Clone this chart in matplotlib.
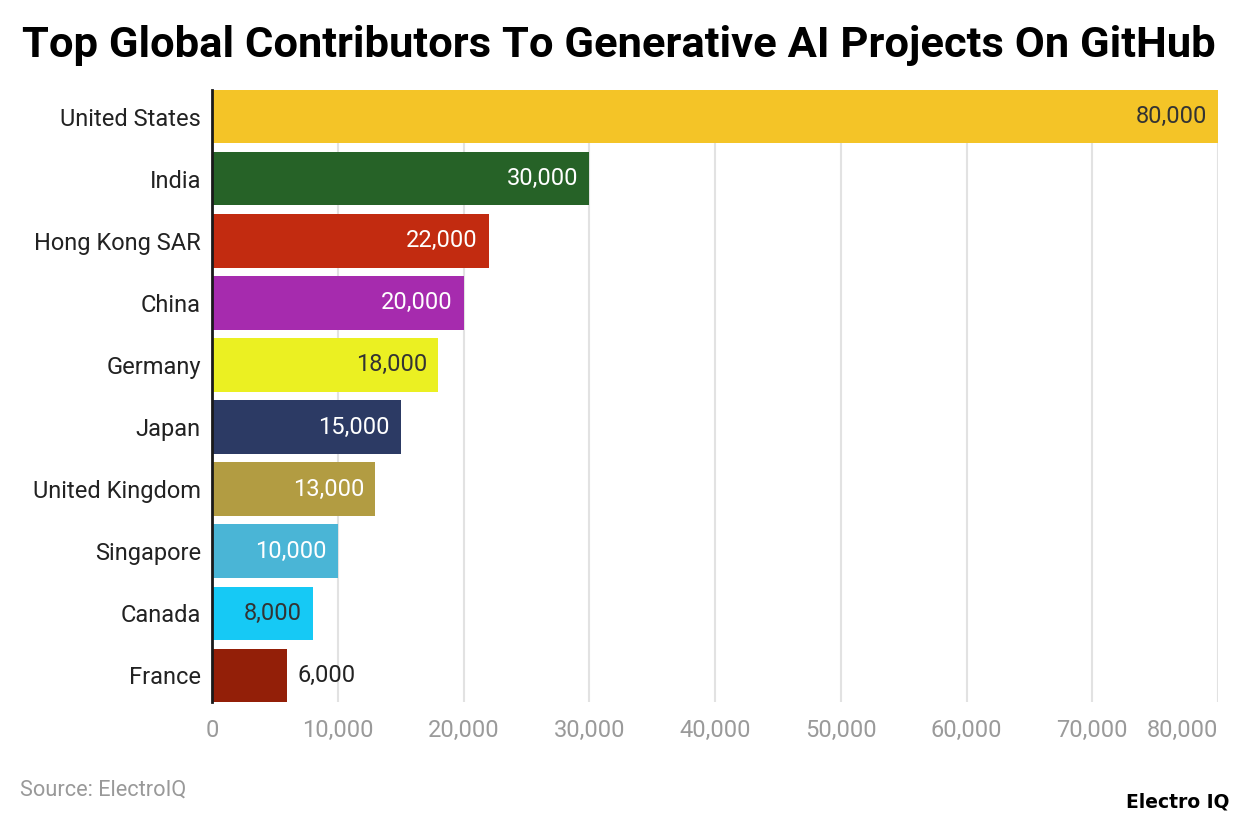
import matplotlib; matplotlib.use("Agg")
import matplotlib.pyplot as plt

plt.rcParams["font.family"] = ["Roboto", "DejaVu Sans"]

countries = ["United States", "India", "Hong Kong SAR", "China", "Germany",
             "Japan", "United Kingdom", "Singapore", "Canada", "France"]
contributors = [80000, 30000, 22000, 20000, 18000, 15000, 13000, 10000, 8000, 6000]
colors = ["#F4C427", "#266227", "#C22B10", "#A62BAE", "#EBF022",
          "#2C3A64", "#B29C42", "#4AB5D6", "#16C9F5", "#931F08"]
label_colors = ["#333333", "white", "white", "white", "#333333",
                "white", "white", "white", "#333333", "#222222"]
xticks = [0, 10000, 20000, 30000, 40000, 50000, 60000, 70000, 80000]

fig = plt.figure(figsize=(12.4, 8.24), dpi=100)
ax = fig.add_axes([212 / 1240, 1 - 702 / 824, 1006 / 1240, 612 / 824])

ypos = list(range(len(countries)))
ax.barh(ypos, contributors, height=0.86, color=colors, zorder=2)
ax.set_ylim(len(countries) - 1 + 0.43, -0.43)
ax.set_xlim(0, 80000)

for y, v, c in zip(ypos, contributors, label_colors):
    txt = f"{v:,}"
    if v >= 8000:
        ax.text(v - 850, y, txt, ha="right", va="center", fontsize=17, color=c, zorder=3)
    else:
        ax.text(v + 800, y, txt, ha="left", va="center", fontsize=17, color=c, zorder=3)

ax.set_yticks(ypos)
ax.set_yticklabels(countries, fontsize=17, color="#222222")
ax.set_xticks(xticks)
ax.set_xticklabels([f"{t:,}" for t in xticks], fontsize=17, color="#9a9a9a")
ax.get_xticklabels()[-1].set_ha("right")
ax.tick_params(axis="both", length=0)
ax.tick_params(axis="x", pad=12)
ax.tick_params(axis="y", pad=8)
ax.grid(axis="x", color="#e2e2e2", linewidth=1.5, zorder=0)
for s in ["top", "right", "bottom"]:
    ax.spines[s].set_visible(False)
ax.spines["left"].set_color("#1a1a1a")
ax.spines["left"].set_linewidth(2)
ax.spines["left"].set_zorder(4)

fig.text(22 / 1240, 1 - 45 / 824, "Top Global Contributors To Generative AI Projects On GitHub",
         fontsize=31.3, fontweight="bold", ha="left", va="center", color="black")
fig.text(20 / 1240, 1 - 790 / 824, "Source: ElectroIQ", fontsize=15.7, color="#999999",
         ha="left", va="center")
fig.text(1230 / 1240, 1 - 802 / 824, "Electro IQ", fontsize=13.5, fontweight="bold",
         family="DejaVu Sans", color="black", ha="right", va="center")

plt.savefig("out.png", dpi=100)
